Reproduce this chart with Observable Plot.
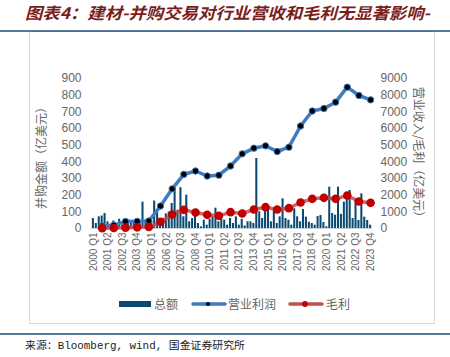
<!DOCTYPE html>
<html><head><meta charset="utf-8">
<script src="https://cdn.jsdelivr.net/npm/d3@7"></script>
<script src="https://cdn.jsdelivr.net/npm/@observablehq/plot@0.6"></script>
<style>body{margin:0;background:#fff}svg{display:block}</style>
</head><body><div id="chart"></div>
<script>
// ---- data ----
const years = [2000,2001,2002,2003,2004,2005,2006,2007,2008,2009,2010,2011,2012,2013,2014,2015,2016,2017,2018,2019,2020,2021,2022,2023];
const quarterNames = ["Q1","Q2","Q3","Q4"];
const quarters = years.flatMap(y => quarterNames.map(q => `${y} ${q}`));
// 并购总额 (亿美元), quarterly
const dealTotal = [
  60,30,70,75, 90,40,25,45, 30,55,20,40, 50,35,45,55,
  30,158,50,60, 40,165,108,30, 60,88,98,150, 240,110,245,70,
  200,40,60,80, 30,10,50,20, 55,70,122,40, 60,50,20,60,
  30,70,20,55, 15,40,40,30, 420,100,60,120, 110,40,120,30,
  70,178,60,50, 20,118,70,40, 114,68,38,30, 20,72,78,36,
  10,248,90,80, 248,85,158,200, 228,60,178,48, 208,68,48,20
];
// 营业利润 (亿美元), annual
const opProfit = [150,200,420,430,450,1350,2380,3250,3450,3150,3200,3750,4480,4820,4960,4620,4880,6150,7050,7200,7580,8480,7980,7720];
// 毛利 (亿美元), annual
const grossProfit = [20,30,50,70,90,400,840,1120,960,820,760,980,900,1140,1280,1140,1220,1560,1780,1840,1780,1980,1620,1540];
const leftTicks = [0,100,200,300,400,500,600,700,800,900];
const xTickLabels = quarters.filter((d,i) => i % 5 === 0);

const title = "图表4：建材-并购交易对行业营收和毛利无显著影响-";
const leftTitle = "并购金额（亿美元）";
const rightTitle = "营业收入/毛利（亿美元）";
const seriesNames = ["总额","营业利润","毛利"];
const source = "来源：Bloomberg, wind, 国金证券研究所";

// ---- tables ----
const deals = quarters.map((q,i) => ({q, v: dealTotal[i]}));
const op = years.map((y,i) => ({q: `${y} Q4`, v: opProfit[i] / 10}));
const gp = years.map((y,i) => ({q: `${y} Q4`, v: grossProfit[i] / 10}));

const W = 450, H = 357;
const BLUE = "#3d7cc2", RED = "#c0504d", BAR = "#0b4a70", GRAY = "#666";

const chart = Plot.plot({
  width: W, height: H,
  marginTop: 78, marginBottom: H - 228, marginLeft: 91, marginRight: 78,
  style: {fontFamily: "'Liberation Sans', Arial, sans-serif", fontSize: "12px", color: GRAY, background: "#fff"},
  x: {type: "band", domain: quarters, padding: 0.3},
  y: {domain: [0, 900]},
  marks: [
    Plot.ruleY([0], {stroke: "#c8d3dc"}),
    Plot.barY(deals, {x: "q", y: "v", fill: BAR}),
    Plot.axisY({anchor: "left", ticks: leftTicks, tickSize: 0, tickPadding: 10, label: null}),
    Plot.axisY({anchor: "right", ticks: leftTicks, tickFormat: d => String(d * 10), tickSize: 0, tickPadding: 8, label: null}),
    Plot.axisX({ticks: xTickLabels, tickRotate: -90, tickSize: 0, tickPadding: 4, label: null, fontSize: 10}),
    Plot.line(op, {x: "q", y: "v", stroke: BLUE, strokeWidth: 3.5}),
    Plot.dot(op, {x: "q", y: "v", r: 3.2, fill: "#000", stroke: BLUE, strokeWidth: 1}),
    Plot.line(gp, {x: "q", y: "v", stroke: RED, strokeWidth: 3.5, strokeOpacity: 0.85}),
    Plot.dot(gp, {x: "q", y: "v", r: 4.3, fill: "#c00000"})
  ]
});
document.getElementById("chart").appendChild(chart);

const svg = d3.select(chart);
const cjk = "'Noto Sans CJK SC', 'Noto Sans', sans-serif";
// chart box
svg.insert("rect", ":first-child").attr("x", 29.5).attr("y", 31.5).attr("width", 405).attr("height", 292)
  .attr("fill", "none").attr("stroke", "#d9d9d9");
// title
svg.append("text").attr("x", 25).attr("y", 19).attr("text-anchor", "start").attr("font-family", cjk).attr("font-size", 16)
  .attr("font-weight", "bold").attr("font-style", "italic").attr("fill", "#7b1c1c")
  .attr("textLength", 405).attr("lengthAdjust", "spacingAndGlyphs").text(title);
svg.append("line").attr("x1", 0).attr("x2", 450).attr("y1", 31).attr("y2", 31).attr("stroke", "#1f4e79").attr("stroke-width", 1.5);
// axis titles
svg.append("text").attr("transform", "translate(46,155) rotate(-90)").attr("text-anchor", "middle")
  .attr("font-family", cjk).attr("font-size", 12).attr("fill", GRAY).text(leftTitle);
svg.append("text").attr("transform", "translate(414,155) rotate(90)").attr("text-anchor", "middle")
  .attr("font-family", cjk).attr("font-size", 12).attr("fill", GRAY).text(rightTitle);
// legend
const lg = svg.append("g").attr("font-family", cjk).attr("font-size", 12).attr("fill", GRAY).attr("text-anchor", "start");
lg.append("rect").attr("x", 119).attr("y", 301).attr("width", 32).attr("height", 6).attr("fill", BAR);
lg.append("text").attr("x", 154).attr("y", 308.5).text(seriesNames[0]);
lg.append("line").attr("x1", 193).attr("x2", 225).attr("y1", 304).attr("y2", 304).attr("stroke", BLUE).attr("stroke-width", 3.5).attr("stroke-linecap", "round");
lg.append("circle").attr("cx", 208).attr("cy", 304).attr("r", 2).attr("fill", "#000");
lg.append("text").attr("x", 228).attr("y", 308.5).text(seriesNames[1]);
lg.append("line").attr("x1", 290).attr("x2", 322).attr("y1", 304).attr("y2", 304).attr("stroke", RED).attr("stroke-width", 3.5).attr("stroke-linecap", "round");
lg.append("circle").attr("cx", 305).attr("cy", 304).attr("r", 3).attr("fill", "#c00000");
lg.append("text").attr("x", 326).attr("y", 308.5).text(seriesNames[2]);
// bottom rule and source
svg.append("line").attr("x1", 0).attr("x2", 450).attr("y1", 334).attr("y2", 334).attr("stroke", "#1f4e79").attr("stroke-width", 1.5);
svg.append("text").attr("x", 25).attr("y", 349).attr("text-anchor", "start").attr("font-family", "'Liberation Mono', 'Noto Sans CJK SC', monospace")
  .attr("font-size", 10).attr("fill", "#222").attr("textLength", 220).attr("lengthAdjust", "spacingAndGlyphs").text(source);
</script></body></html>
